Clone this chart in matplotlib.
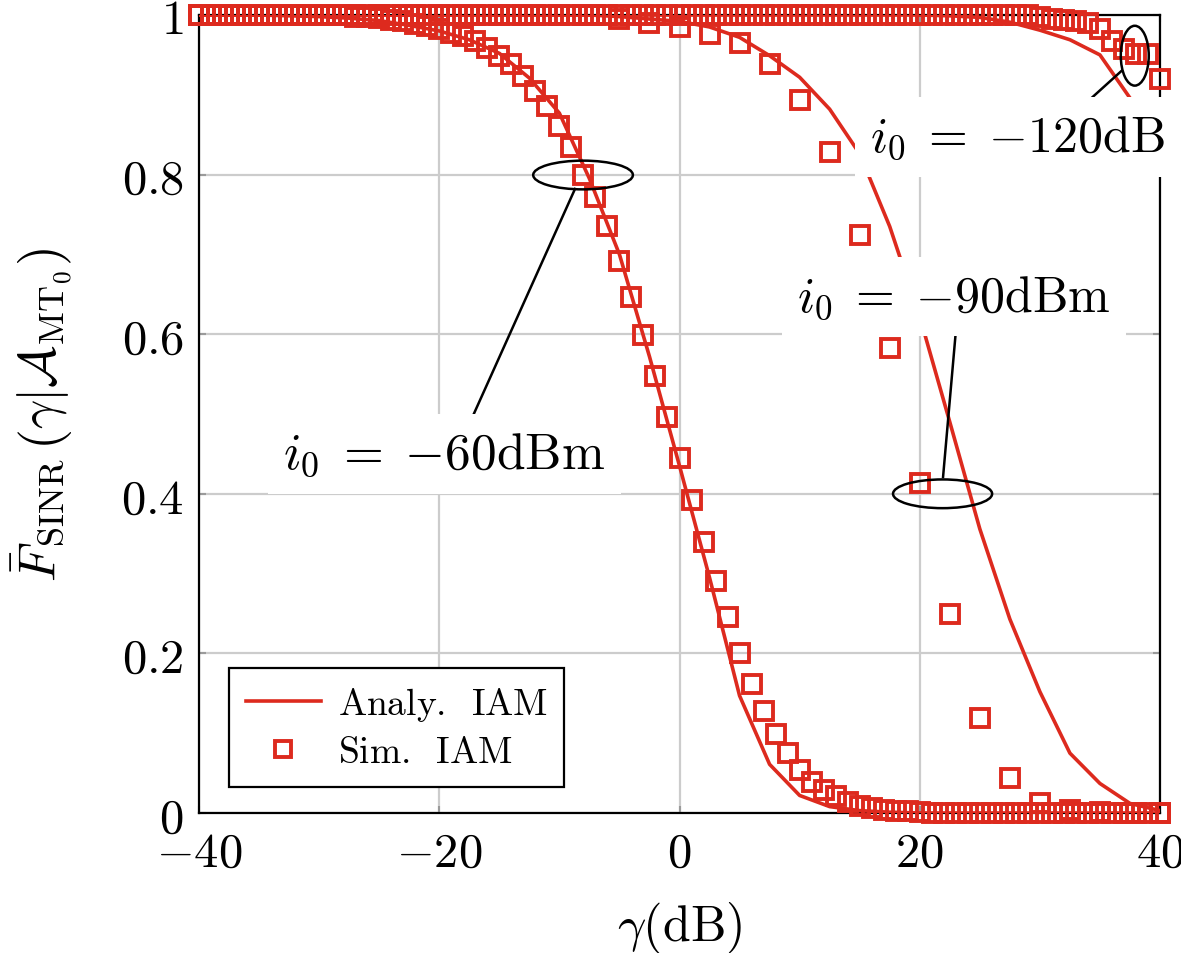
import numpy as np
import matplotlib
matplotlib.use("Agg")
import matplotlib.pyplot as plt
from matplotlib.patches import Ellipse

plt.rcParams['mathtext.fontset'] = 'cm'
plt.rcParams['font.family'] = ['DejaVu Serif']

RED = '#DD2A1E'

# ---- data ----
x_sim_1db = np.arange(-40, 41, 1)
x_sim_25db = np.arange(-40, 40.1, 2.5)
x_ana = np.arange(-40, 40.1, 2.5)
x_ana_120 = np.arange(-40, 37.6, 2.5)

sim_60 = [1.0] * 13 + [
    0.998, 0.997, 0.996, 0.994, 0.992, 0.989, 0.986, 0.982, 0.978, 0.974,
    0.968, 0.959, 0.949, 0.939, 0.924, 0.905, 0.886, 0.861, 0.834, 0.799,
    0.772, 0.735, 0.692, 0.647, 0.599, 0.548, 0.496, 0.445, 0.392, 0.340,
    0.291, 0.245, 0.201, 0.162, 0.128, 0.099, 0.075, 0.054, 0.039, 0.029,
    0.021, 0.014, 0.009, 0.006, 0.004, 0.003, 0.002, 0.001] + [0.0] * 20

sim_90 = [1.0] * 14 + [
    0.995, 0.990, 0.985, 0.976, 0.965, 0.939, 0.894, 0.828, 0.724, 0.583,
    0.414, 0.249, 0.119, 0.044, 0.013, 0.004, 0.001, 0.0, 0.0]

sim_120 = [1.0] * 70 + [
    0.997, 0.995, 0.994, 0.993, 0.990, 0.982, 0.968, 0.957, 0.951, 0.951, 0.920]

ana_60 = [1.0, 1.0, 1.0, 0.999, 0.998, 0.996, 0.993, 0.987, 0.980, 0.969,
          0.952, 0.921, 0.877, 0.795, 0.700, 0.572, 0.435, 0.295, 0.147,
          0.061, 0.022, 0.008, 0.003, 0.001] + [0.0] * 9

ana_90 = [1.0] * 14 + [
    0.998, 0.995, 0.992, 0.985, 0.972, 0.949, 0.922, 0.882, 0.826, 0.735,
    0.622, 0.490, 0.356, 0.243, 0.152, 0.075, 0.037, 0.012, 0.003]

ana_120 = [1.0] * 25 + [0.999, 0.997, 0.991, 0.981, 0.969, 0.950, 0.896]

x_ticks = [-40, -20, 0, 20, 40]
x_tick_labels = ['$-40$', '$-20$', '$0$', '$20$', '$40$']
y_ticks = [0, 0.2, 0.4, 0.6, 0.8, 1.0]
y_tick_labels = ['$0$', '$0.2$', '$0.4$', '$0.6$', '$0.8$', '$1$']

# ---- figure ----
fig = plt.figure(figsize=(11.81, 9.54), dpi=100)
ax = fig.add_axes([199 / 1181, 1 - 814 / 954, 961 / 1181, 798 / 954])

lw = 2.6
ms = 13
mew = 2.8
for xa, ya in [(x_ana, ana_60), (x_ana, ana_90), (x_ana_120, ana_120)]:
    ax.plot(xa, ya, color=RED, lw=lw, zorder=3)

for xs, ys in [(x_sim_1db, sim_60), (x_sim_25db, sim_90), (x_sim_1db, sim_120)]:
    ax.plot(xs, ys, ls='none', marker='s', ms=ms, mfc='none', mec=RED,
            mew=mew, zorder=4, clip_on=False)

# legend handles
h_line, = ax.plot([], [], color=RED, lw=lw)
h_mark, = ax.plot([], [], ls='none', marker='s', ms=12, mfc='none', mec=RED, mew=2.8)

ax.set_xlim(-40, 40)
ax.set_ylim(0, 1)
ax.set_xticks(x_ticks)
ax.set_xticklabels(x_tick_labels)
ax.set_yticks(y_ticks)
ax.set_yticklabels(y_tick_labels)
ax.tick_params(axis='both', which='both', direction='in', length=5, width=1.5,
               color='#9a9a9a', labelsize=35, pad=11, top=True, right=True)
ax.grid(True, color='#cccccc', lw=1.6)
ax.set_axisbelow(True)
for s in ax.spines.values():
    s.set_linewidth(1.6)
    s.set_color('black')
    s.set_zorder(2.5)

ax.set_xlabel(r'$\gamma(\mathrm{dB})$', fontsize=36)
ax.xaxis.set_label_coords(0.5, -0.143)
ax.xaxis.label.set_va('center')
ax.set_ylabel(r'$\bar{F}_{\mathrm{SINR}}\,\left(\gamma|\mathcal{A}_{\mathrm{MT}_0}\right)$',
              fontsize=37)
ax.yaxis.set_label_coords(-0.163, 0.5)
ax.yaxis.label.set_va('center')

# annotations
ell_kw = dict(fill=False, ec='black', lw=1.8, zorder=5)
ax.add_patch(Ellipse((-8.03, 0.7995), 8.3, 0.036, **ell_kw))
ax.add_patch(Ellipse((21.9, 0.40), 8.25, 0.036, **ell_kw))
ax.add_patch(Ellipse((37.9, 0.949), 2.33, 0.075, **ell_kw))

ax.plot([-8.7, -17.2], [0.782, 0.4975], color='black', lw=1.8, zorder=5)
ax.plot([21.94, 23.1], [0.421, 0.62], color='black', lw=1.8, zorder=5)
ax.plot([36.8, 34.3], [0.930, 0.896], color='black', lw=1.8, zorder=5)

box = dict(boxstyle='square,pad=0.3', fc='white', ec='none')
ax.text(-19.6, 0.45, r'$i_0\;=\;{-60}\mathrm{dBm}$', fontsize=37, ha='center',
        va='center', bbox=box, zorder=6)
ax.text(22.86, 0.647, r'$i_0\;=\;{-90}\mathrm{dBm}$', fontsize=36, ha='center',
        va='center', bbox=box, zorder=6)
ax.text(28.1, 0.847, r'$i_0\;=\;{-120}\mathrm{dB}$', fontsize=36, ha='center',
        va='center', bbox=box, zorder=6)

leg = ax.legend([h_line, h_mark],
                [r'$\mathrm{Analy.\;\;IAM}$', r'$\mathrm{Sim.\;\;IAM}$'],
                loc='lower left', bbox_to_anchor=(0.031, 0.0326),
                borderaxespad=0, fontsize=27, fancybox=False, framealpha=1,
                edgecolor='black', handlelength=2.0, handletextpad=0.45,
                borderpad=0.45, labelspacing=0.3)
leg.get_frame().set_linewidth(1.6)
leg.set_zorder(7)

fig.savefig('out.png', dpi=100)
